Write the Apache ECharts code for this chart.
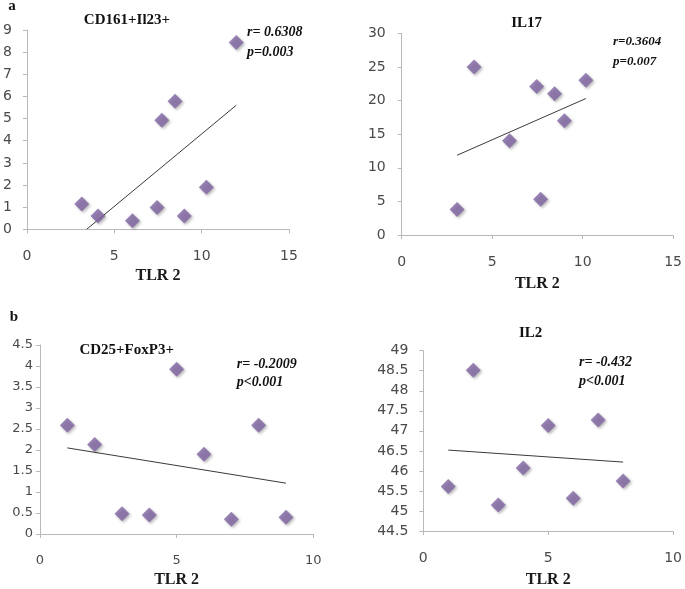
<!DOCTYPE html>
<html>
<head>
<meta charset="utf-8">
<script src="https://cdn.jsdelivr.net/npm/echarts@6/dist/echarts.min.js"></script>
<style>html,body{margin:0;padding:0;background:#fff}#c{width:685px;height:589px}</style>
</head>
<body>
<div id="c"></div>
<script>
// Panel a1: CD161+Il23+ vs TLR 2
var cd161X = [3.14, 4.07, 6.04, 7.45, 7.72, 8.48, 9.01, 10.27, 11.98];
var cd161Y = [1.14, 0.60, 0.39, 0.99, 4.93, 5.78, 0.60, 1.90, 8.43];
var cd161TrendX = [3.42, 11.98];
var cd161TrendY = [0, 5.60];
// Panel a2: IL17 vs TLR 2
var il17X = [3.06, 4.0, 5.96, 7.46, 7.68, 8.45, 8.99, 10.18];
var il17Y = [3.8, 25.0, 14.0, 22.1, 5.3, 21.0, 17.0, 23.0];
var il17TrendX = [3.06, 10.18];
var il17TrendY = [11.86, 20.3];
// Panel b1: CD25+FoxP3+ vs TLR 2
var cd25X = [1, 2, 3, 4, 5, 6, 7, 8, 9];
var cd25Y = [2.59, 2.13, 0.48, 0.45, 3.92, 1.90, 0.35, 2.59, 0.40];
var cd25TrendX = [1, 9];
var cd25TrendY = [2.05, 1.21];
// Panel b2: IL2 vs TLR 2
var il2X = [1, 2, 3, 4, 5, 6, 7, 8];
var il2Y = [45.61, 48.51, 45.15, 46.07, 47.13, 45.32, 47.27, 45.75];
var il2TrendX = [1, 8];
var il2TrendY = [46.52, 46.22];

var titles = ['CD161+Il23+', 'IL17', 'CD25+FoxP3+', 'IL2'];
var stats = [['r= 0.6308', 'p=0.003'], ['r=0.3604', 'p=0.007'], ['r= -0.2009', 'p<0.001'], ['r= -0.432', 'p<0.001']];
var xTitle = 'TLR 2';

function pairs(xs, ys) { return xs.map(function (x, i) { return [x, ys[i]]; }); }

var sans = 'DejaVu Sans';
var serif = 'Liberation Serif';
var axisCol = '#b8b8b8';
var labCol = '#4a4a4a';

var grids = [
  {left: 26, right: 396, top: 30, bottom: 359.7},
  {left: 401.7, right: 10.7, top: 33.3, bottom: 354},
  {left: 40, right: 371.7, top: 345, bottom: 48.3},
  {left: 423.3, right: 10, top: 350.7, bottom: 52.3}
];
var xMax = [15, 15, 10, 10];
var yMin = [0, 0, 0, 44.5];
var yMax = [9, 30, 4.5, 49];
var yInt = [1, 5, 0.5, 0.5];
var yMargin = [15, 16, 7, 15];
var labSize = [14, 14, 13, 14];
var nameGaps = [39, 41, 38, 41];

var xAxes = [], yAxes = [];
for (var i = 0; i < 4; i++) {
  xAxes.push({
    gridIndex: i, type: 'value', min: 0, max: xMax[i], interval: 5,
    name: xTitle, nameLocation: 'middle', nameGap: nameGaps[i],
    nameTextStyle: {fontFamily: serif, fontWeight: 'bold', fontSize: 16, color: '#1a1a1a'},
    axisLine: {show: true, lineStyle: {color: axisCol, width: 1}},
    axisTick: {show: true, inside: false, length: 4, lineStyle: {color: axisCol}},
    axisLabel: {margin: 20, fontFamily: sans, fontSize: labSize[i], color: labCol},
    splitLine: {show: false}
  });
  yAxes.push({
    gridIndex: i, type: 'value', min: yMin[i], max: yMax[i], interval: yInt[i],
    axisLine: {show: true, lineStyle: {color: axisCol, width: 1}},
    axisTick: {show: true, inside: false, length: 4, lineStyle: {color: axisCol}},
    axisLabel: {margin: yMargin[i], fontFamily: sans, fontSize: labSize[i], color: labCol},
    splitLine: {show: false}
  });
}

var pts = [pairs(cd161X, cd161Y), pairs(il17X, il17Y), pairs(cd25X, cd25Y), pairs(il2X, il2Y)];
var trends = [pairs(cd161TrendX, cd161TrendY), pairs(il17TrendX, il17TrendY), pairs(cd25TrendX, cd25TrendY), pairs(il2TrendX, il2TrendY)];

var series = [];
for (var j = 0; j < 4; j++) {
  series.push({
    type: 'line', xAxisIndex: j, yAxisIndex: j, data: trends[j],
    showSymbol: false, symbol: 'none', silent: true,
    lineStyle: {color: '#3a3a3a', width: 1}, z: 2
  });
  series.push({
    type: 'scatter', xAxisIndex: j, yAxisIndex: j, data: pts[j],
    symbol: 'diamond', symbolSize: 15,
    itemStyle: {color: '#8064A2', shadowBlur: 3, shadowColor: 'rgba(0,0,0,0.35)', shadowOffsetX: 1.5, shadowOffsetY: 1.5},
    z: 3
  });
}

function txt(x, y, s, opts) {
  var st = {text: s, x: x, y: y, fill: '#111', fontFamily: serif, fontWeight: 'bold', fontSize: 15, textAlign: 'center', textVerticalAlign: 'middle'};
  for (var k in opts) st[k] = opts[k];
  return {type: 'text', style: st, z: 10};
}

var titlePos = [[127, 20], [526.7, 23.3], [126.7, 350], [530.7, 333.3]];
var statPos = [[247, 32, 52, 14], [613, 41.7, 61.7, 13], [236.7, 364.3, 382.7, 14], [579, 362, 381.7, 14]];
var graphics = [
  txt(12, 6, 'a', {fontSize: 15}),
  txt(14, 317, 'b', {fontSize: 15})
];
for (var m = 0; m < 4; m++) {
  graphics.push(txt(titlePos[m][0], titlePos[m][1], titles[m], {fontSize: 15}));
  graphics.push(txt(statPos[m][0], statPos[m][1], stats[m][0], {fontStyle: 'italic', fontSize: statPos[m][3], textAlign: 'left'}));
  graphics.push(txt(statPos[m][0], statPos[m][2], stats[m][1], {fontStyle: 'italic', fontSize: statPos[m][3], textAlign: 'left'}));
}

var chart = echarts.init(document.getElementById('c'), null, {renderer: 'canvas'});
chart.setOption({
  animation: false,
  backgroundColor: '#fff',
  grid: grids,
  xAxis: xAxes,
  yAxis: yAxes,
  series: series,
  graphic: graphics
});
</script>
</body>
</html>
